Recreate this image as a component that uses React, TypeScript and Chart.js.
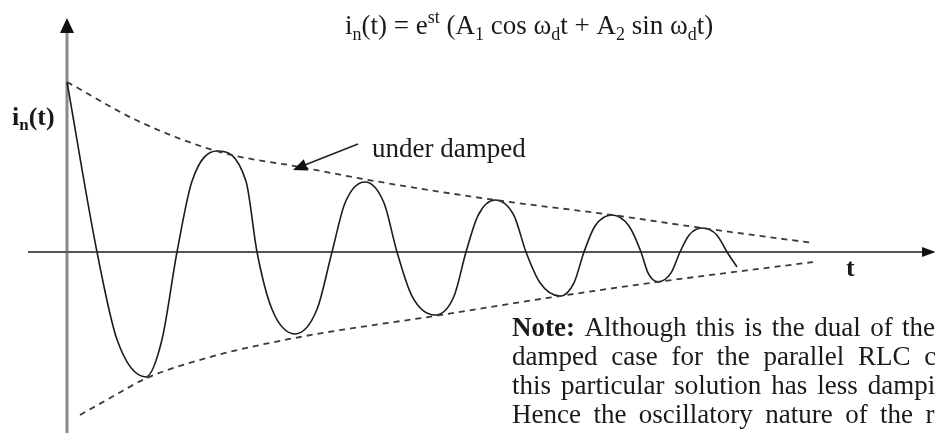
import React, { useEffect, useRef } from "react";
import { Chart, registerables } from "chart.js";

Chart.register(...registerables);

// Damped oscillation i_n(t) (t arbitrary units, i normalised to i(0)=1)
// zero crossings, ~70% levels and extrema of each lobe
const curveT = [0, 0.30, 0.50, 0.79, 0.95, 1.10, 1.25, 1.50, 1.79, 1.90, 2.05, 2.28, 2.50, 2.65, 2.78, 2.98, 3.17, 3.30, 3.45, 3.68, 3.87, 3.99, 4.11, 4.28, 4.47, 4.59, 4.73, 4.93, 5.07, 5.17, 5.28, 5.45, 5.62, 5.74, 5.81, 5.91, 6.04, 6.13, 6.22, 6.35, 6.50, 6.60, 6.70];
const curveI = [1.0, 0, -0.515, -0.735, -0.515, 0, 0.416, 0.594, 0.416, 0, -0.337, -0.482, -0.337, 0, 0.288, 0.412, 0.288, 0, -0.260, -0.371, -0.260, 0, 0.214, 0.306, 0.214, 0, -0.181, -0.259, -0.181, 0, 0.153, 0.218, 0.153, 0, -0.123, -0.176, -0.123, 0, 0.099, 0.141, 0.099, 0, -0.088];

// Upper (positive) envelope
const upperT = [0, 0.73, 1.53, 2.33, 3.13, 4.28, 5.45, 6.35, 7.46];
const upperI = [1.0, 0.765, 0.588, 0.500, 0.412, 0.306, 0.218, 0.141, 0.053];

// Lower (negative) envelope
const lowerT = [0.13, 0.43, 0.80, 1.43, 2.33, 3.68, 4.93, 5.91, 7.46];
const lowerI = [-0.959, -0.859, -0.741, -0.618, -0.500, -0.376, -0.259, -0.176, -0.059];

// Texts
const yLabel = ["i", "n", "(t)"];
const xLabel = "t";
const annotationText = "under damped";
const noteLines = [
  [["Note:", true], ["Although", false], ["this", false], ["is", false], ["the", false], ["dual", false], ["of", false], ["the", false], ["over", false]],
  [["damped", false], ["case", false], ["for", false], ["the", false], ["parallel", false], ["RLC", false], ["circuit,", false]],
  [["this", false], ["particular", false], ["solution", false], ["has", false], ["less", false], ["damping.", false]],
  [["Hence", false], ["the", false], ["oscillatory", false], ["nature", false], ["of", false], ["the", false], ["response.", false]],
];
// formula pieces: [text, kind] kind: n=normal, sub, sup
const formula: [string, string][] = [
  ["i", "n"], ["n", "sub"], ["(t) = e", "n"], ["st", "sup"], [" (A", "n"], ["1", "sub"],
  [" cos \u03c9", "n"], ["d", "sub"], ["t + A", "n"], ["2", "sub"], [" sin \u03c9", "n"], ["d", "sub"], ["t)", "n"],
];

const SERIF = '"Liberation Serif", "Times New Roman", serif';

const diagramPlugin = {
  id: "diagram",
  beforeDatasetsDraw(chart: any) {
    const ctx = chart.ctx;
    const xs = chart.scales.x;
    const ys = chart.scales.y;
    const x0 = xs.getPixelForValue(0);
    const y0 = ys.getPixelForValue(0);
    ctx.save();
    // y axis
    ctx.strokeStyle = "#8a8a8a";
    ctx.lineWidth = 3;
    ctx.beginPath();
    ctx.moveTo(x0, 433);
    ctx.lineTo(x0, 30);
    ctx.stroke();
    ctx.fillStyle = "#111";
    ctx.beginPath();
    ctx.moveTo(x0, 18);
    ctx.lineTo(x0 - 7, 33);
    ctx.lineTo(x0 + 7, 33);
    ctx.closePath();
    ctx.fill();
    // x axis
    ctx.strokeStyle = "#555";
    ctx.lineWidth = 2;
    ctx.beginPath();
    ctx.moveTo(28, y0);
    ctx.lineTo(925, y0);
    ctx.stroke();
    ctx.fillStyle = "#111";
    ctx.beginPath();
    ctx.moveTo(936, y0);
    ctx.lineTo(922, y0 - 5);
    ctx.lineTo(922, y0 + 5);
    ctx.closePath();
    ctx.fill();
    ctx.restore();
  },
  afterDraw(chart: any) {
    const ctx = chart.ctx;
    const xs = chart.scales.x;
    const ys = chart.scales.y;
    ctx.save();
    ctx.fillStyle = "#1a1a1a";
    ctx.textBaseline = "alphabetic";
    ctx.textAlign = "left";

    // formula
    const fs = 27;
    let fx = 345;
    const fy = 34;
    for (const [txt, kind] of formula) {
      const size = kind === "n" ? fs : Math.round(fs * 0.65);
      const dy = kind === "sub" ? 6 : kind === "sup" ? -11 : 0;
      ctx.font = `${size}px ${SERIF}`;
      ctx.fillText(txt, fx, fy + dy);
      fx += ctx.measureText(txt).width;
    }

    // y label
    let lx = 12;
    ctx.font = `bold 26px ${SERIF}`;
    ctx.fillText(yLabel[0], lx, 125);
    lx += ctx.measureText(yLabel[0]).width;
    ctx.font = `bold 17px ${SERIF}`;
    ctx.fillText(yLabel[1], lx, 130);
    lx += ctx.measureText(yLabel[1]).width;
    ctx.font = `bold 26px ${SERIF}`;
    ctx.fillText(yLabel[2], lx, 125);

    // x label
    ctx.font = `bold 26px ${SERIF}`;
    ctx.fillText(xLabel, 846, 276);

    // annotation
    ctx.font = `27px ${SERIF}`;
    ctx.fillText(annotationText, 372, 157);
    const tipX = xs.getPixelForValue(2.26);
    const tipY = ys.getPixelForValue(0.482);
    const tailX = xs.getPixelForValue(2.91);
    const tailY = ys.getPixelForValue(0.635);
    ctx.strokeStyle = "#222";
    ctx.lineWidth = 1.6;
    ctx.beginPath();
    ctx.moveTo(tailX, tailY);
    ctx.lineTo(tipX + 8, tipY - 3.5);
    ctx.stroke();
    const ang = Math.atan2(tipY - tailY, tipX - tailX);
    ctx.fillStyle = "#111";
    ctx.beginPath();
    ctx.moveTo(tipX, tipY);
    ctx.lineTo(tipX - 14 * Math.cos(ang) + 6 * Math.sin(ang), tipY - 14 * Math.sin(ang) - 6 * Math.cos(ang));
    ctx.lineTo(tipX - 14 * Math.cos(ang) - 6 * Math.sin(ang), tipY - 14 * Math.sin(ang) + 6 * Math.cos(ang));
    ctx.closePath();
    ctx.fill();

    // note paragraph
    ctx.fillStyle = "#1a1a1a";
    const extras = [2.7, 7, 3.2, 5.7];
    const baselines = [336, 365, 394, 423];
    noteLines.forEach((line, li) => {
      let x = 512;
      for (const [w, bold] of line as [string, boolean][]) {
        ctx.font = `${bold ? "bold " : ""}27px ${SERIF}`;
        ctx.fillText(w, x, baselines[li]);
        x += ctx.measureText(w).width;
        ctx.font = `27px ${SERIF}`;
        x += ctx.measureText(" ").width + extras[li];
      }
    });
    ctx.restore();
  },
};

export default function App() {
  const ref = useRef<HTMLCanvasElement | null>(null);
  useEffect(() => {
    if (!ref.current) return;
    const chart = new Chart(ref.current, {
      type: "scatter",
      data: {
        datasets: [
          {
            label: "envelope+",
            data: upperT.map((t, i) => ({ x: t, y: upperI[i] })),
            showLine: true,
            borderColor: "#3a3a3a",
            borderWidth: 1.8,
            borderDash: [6, 5],
            pointRadius: 0,
            cubicInterpolationMode: "monotone",
          },
          {
            label: "envelope-",
            data: lowerT.map((t, i) => ({ x: t, y: lowerI[i] })),
            showLine: true,
            borderColor: "#3a3a3a",
            borderWidth: 1.8,
            borderDash: [6, 5],
            pointRadius: 0,
            cubicInterpolationMode: "monotone",
          },
          {
            label: "i_n(t)",
            data: curveT.map((t, i) => ({ x: t, y: curveI[i] })),
            showLine: true,
            borderColor: "#1c1c1c",
            borderWidth: 1.6,
            pointRadius: 0,
            cubicInterpolationMode: "monotone",
          },
        ],
      },
      options: {
        animation: false,
        responsive: false,
        maintainAspectRatio: false,
        layout: { padding: 0 },
        plugins: { legend: { display: false }, tooltip: { enabled: false }, title: { display: false } },
        scales: {
          x: { type: "linear", min: -0.67, max: 8.68, display: false },
          y: { type: "linear", min: -184 / 170, max: 252 / 170, display: false },
        },
      },
      plugins: [diagramPlugin],
    } as any);
    return () => chart.destroy();
  }, []);
  return (
    <div style={{ position: "fixed", left: 0, top: 0, width: 935, height: 436, background: "#fff" }}>
      <canvas ref={ref} width={935} height={436} style={{ display: "block" }} />
    </div>
  );
}
